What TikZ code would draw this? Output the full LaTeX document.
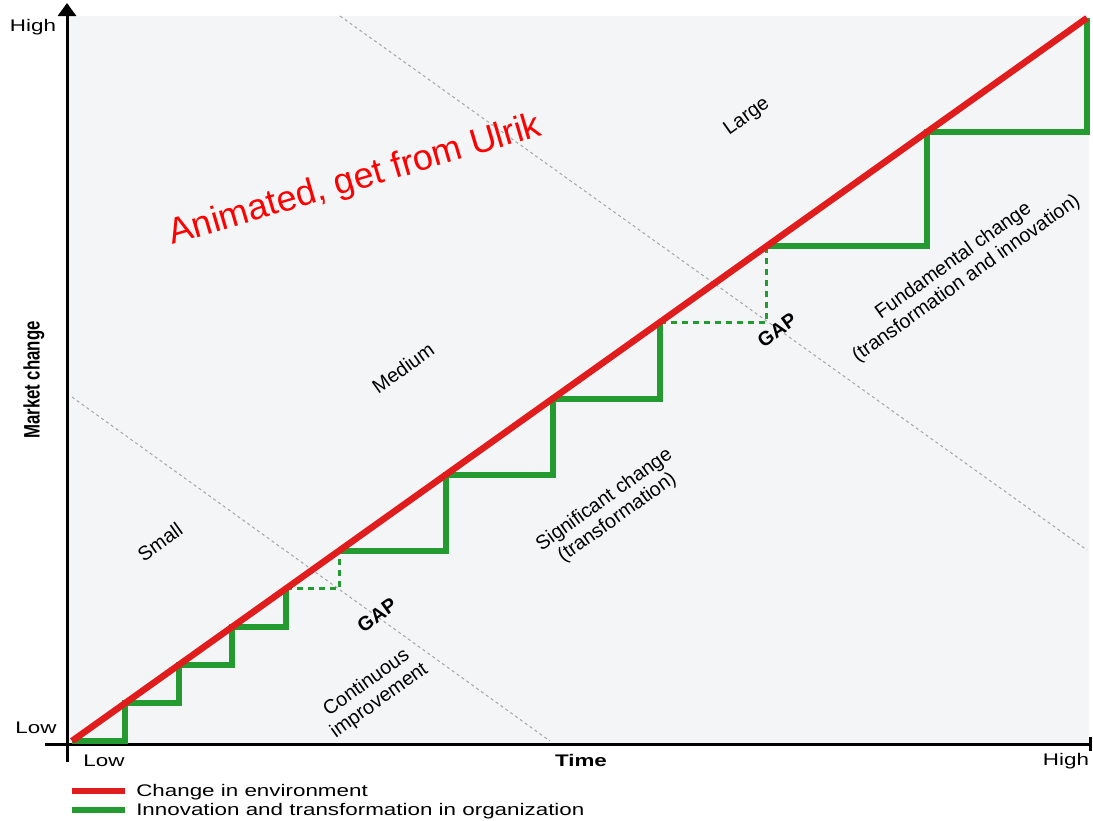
\documentclass[tikz,border=0pt]{standalone}
\usepackage{fontspec}
\setmainfont{Liberation Sans}
\usetikzlibrary{arrows.meta}

\definecolor{panel}{HTML}{F4F5F7}
\definecolor{envred}{RGB}{225,28,28}
\definecolor{orggreen}{RGB}{36,155,48}
\definecolor{zone}{RGB}{165,165,165}
\definecolor{note}{RGB}{255,0,0}

\tikzset{
  lbl/.style={font=\fontsize{16.8}{20}\selectfont, xscale=1.333, inner sep=0pt},
  boldlbl/.style={lbl, font=\fontsize{16.8}{20}\selectfont\bfseries},
  diag/.style={font=\fontsize{19.8}{22}\selectfont, rotate=35.5, align=center, inner sep=0pt},
  gapl/.style={diag, font=\fontsize{19.8}{22}\selectfont\bfseries},
  axisline/.style={line width=3pt, black},
  envline/.style={line width=6.5pt, envred},
  orgline/.style={line width=6pt, orggreen},
  gapline/.style={line width=3pt, orggreen, dash pattern=on 6pt off 5pt},
  zoneline/.style={line width=1pt, zone, dash pattern=on 3pt off 3pt},
}

\begin{document}
\begin{tikzpicture}[x=1pt, y=-1pt]
\useasboundingbox (0,0) rectangle (1093,820);

% plotting area
\fill[panel] (69,16) rectangle (1089,744);

% zone boundaries
\coordinate (za1) at (72,397);
\coordinate (za2) at (550,741);
\coordinate (zb1) at (340,16);
\coordinate (zb2) at (1087,550);
\draw[zoneline] (za1) -- (za2);
\draw[zoneline] (zb1) -- (zb2);

% axes
\coordinate (ybot) at (67,762);
\coordinate (ytop) at (67,3);
\coordinate (xleft) at (45,744);
\coordinate (xright) at (1092,744);
\draw[axisline, -{Triangle[width=18pt,length=13pt]}] (ybot) -- (ytop);
\draw[axisline, -{Bar[width=14pt,line width=3pt]}] (xleft) -- (xright);

% staircase of the organisation
\coordinate (g0) at (72,741);
\coordinate (g1) at (125.4,702.9);
\coordinate (g2) at (178.8,664.9);
\coordinate (g3) at (232.3,626.8);
\coordinate (g4) at (285.7,588.8);
\coordinate (g5) at (339.1,550.7);
\coordinate (g7) at (445.9,474.6);
\coordinate (g9) at (552.8,398.5);
\coordinate (g11) at (659.6,322.4);
\coordinate (g13) at (766.5,246.4);
\coordinate (g16) at (926.8,132.2);
\coordinate (g19) at (1087,18);

\draw[orgline, line join=miter] (g0) -| (g1) -| (g2) -| (g3) -| (g4);
\draw[gapline] (g4) -| (g5);
\draw[orgline, line join=miter] (g5) -| (g7) -| (g9) -| (g11);
\draw[gapline] (g11) -| (g13);
\draw[orgline, line join=miter] (g13) -| (g16) -| (g19);

% environment
\draw[envline] (g0) -- (g19);

% axis labels
\node[lbl] (yhigh) at (33,27) {High};
\node[lbl] (ylow) at (36,728) {Low};
\node[lbl] (xlow) at (104,761) {Low};
\node[boldlbl] (xtime) at (581,760) {Time};
\node[lbl] (xhigh) at (1066,761) {High};
\node[boldlbl, rotate=90] (ytitle) at (34,380) {Market change};

% zone labels
\node[diag] (small) at (160,542) {Small};
\node[diag] (medium) at (403,368) {Medium};
\node[diag] (large) at (747,117) {Large};
\node[diag] (cont) at (373,692) {Continuous\\improvement};
\node[diag] (sig) at (611,509) {Significant change\\(transformation)};
\node[diag] (fund) at (960,270) {Fundamental change\\(transformation and innovation)};
\node[gapl] (gap1) at (377,615) {GAP};
\node[gapl] (gap2) at (777,330) {GAP};

% note
\node[font=\fontsize{36}{40}\selectfont, text=note, rotate=16.5, anchor=base, inner sep=0pt] (anim) at (358,190) {Animated, get from Ulrik};

% legend
\coordinate (lr1) at (72,791);
\coordinate (lr2) at (125,791);
\coordinate (lg1) at (72,810);
\coordinate (lg2) at (125,810);
\draw[line width=6pt, envred] (lr1) -- (lr2);
\draw[line width=6pt, orggreen] (lg1) -- (lg2);
\node[lbl, anchor=west] (legenv) at (136,792) {Change in environment};
\node[lbl, anchor=west] (legorg) at (136,811) {Innovation and transformation in organization};
\end{tikzpicture}
\end{document}
